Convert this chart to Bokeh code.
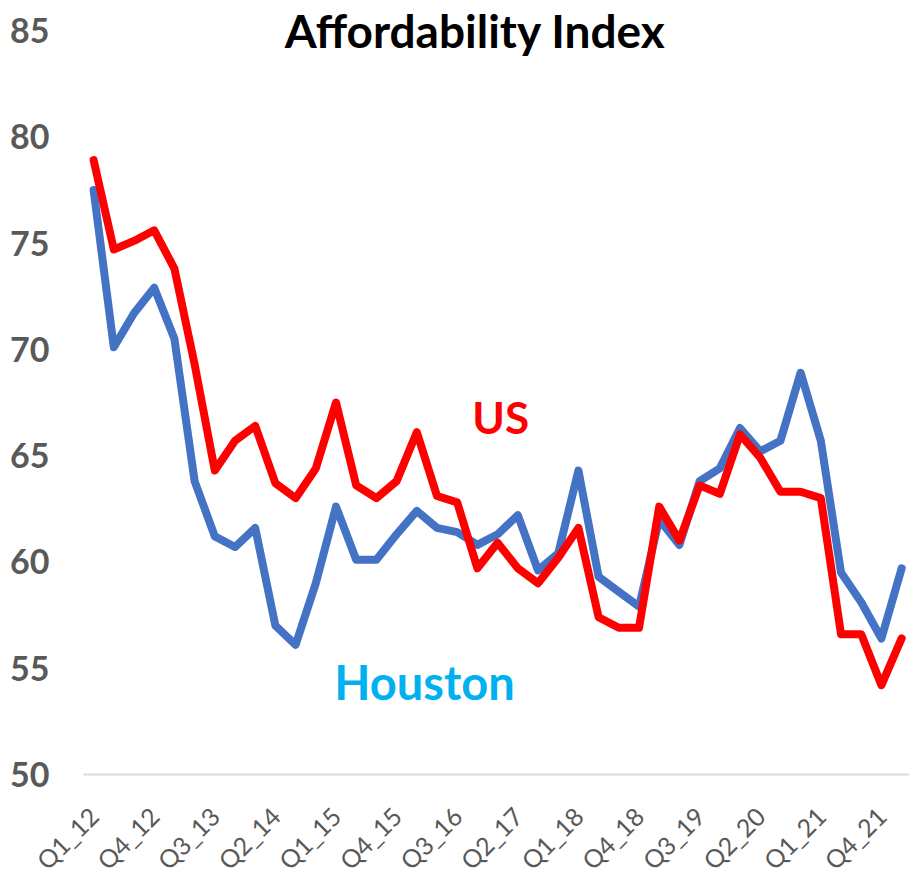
from bokeh.plotting import figure
from bokeh.models import FixedTicker, Range1d, Label, ColumnDataSource
from bokeh.embed import file_html
from bokeh.resources import INLINE
import math

quarters = ["Q1_12", "Q2_12", "Q3_12", "Q4_12",
            "Q1_13", "Q2_13", "Q3_13", "Q4_13",
            "Q1_14", "Q2_14", "Q3_14", "Q4_14",
            "Q1_15", "Q2_15", "Q3_15", "Q4_15",
            "Q1_16", "Q2_16", "Q3_16", "Q4_16",
            "Q1_17", "Q2_17", "Q3_17", "Q4_17",
            "Q1_18", "Q2_18", "Q3_18", "Q4_18",
            "Q1_19", "Q2_19", "Q3_19", "Q4_19",
            "Q1_20", "Q2_20", "Q3_20", "Q4_20",
            "Q1_21", "Q2_21", "Q3_21", "Q4_21",
            "Q1_22"]

houston = [77.5, 70.1, 71.7, 72.9, 70.5, 63.8, 61.2, 60.7, 61.6, 57.0,
           56.1, 59.0, 62.6, 60.1, 60.1, 61.3, 62.4, 61.6, 61.4, 60.8,
           61.3, 62.2, 59.6, 60.4, 64.3, 59.3, 58.6, 57.9, 62.0, 60.8,
           63.8, 64.4, 66.3, 65.2, 65.7, 68.9, 65.7, 59.5, 58.1, 56.4,
           59.7]

us = [78.9, 74.7, 75.1, 75.6, 73.8, 69.3, 64.3, 65.7, 66.4, 63.7,
      63.0, 64.4, 67.5, 63.6, 63.0, 63.8, 66.1, 63.1, 62.8, 59.7,
      60.9, 59.7, 59.0, 60.2, 61.6, 57.4, 56.9, 56.9, 62.6, 61.0,
      63.6, 63.2, 66.0, 64.9, 63.3, 63.3, 63.0, 56.6, 56.6, 54.2,
      56.4]

y_ticks = [50, 55, 60, 65, 70, 75, 80, 85]

idx = list(range(len(quarters)))
src = ColumnDataSource(dict(x=idx, houston=houston, us=us))

x_lo = -0.5
x_hi = len(quarters) - 0.61

p = figure(width=909, height=877, output_backend="svg", toolbar_location=None,
           x_range=Range1d(x_lo - 4.109, x_hi),
           y_range=Range1d(45.154, 86.411))
p.min_border_left = 0
p.min_border_right = 0
p.min_border_top = 0
p.min_border_bottom = 0
p.outline_line_color = None
p.background_fill_color = "white"
p.border_fill_color = "white"
p.xgrid.visible = False
p.ygrid.visible = False

p.line("x", "houston", source=src, line_color="#4472C4", line_width=8,
       line_join="round", line_cap="round")
p.line("x", "us", source=src, line_color="#FF0000", line_width=8,
       line_join="round", line_cap="round")

# y axis, pinned at the left edge of the category area
p.yaxis.fixed_location = x_lo
p.yaxis.ticker = FixedTicker(ticks=y_ticks)
p.yaxis.axis_line_color = None
p.yaxis.major_tick_line_color = None
p.yaxis.minor_tick_line_color = None
p.yaxis.major_label_standoff = 28
p.yaxis.major_label_text_font = "Lato"
p.yaxis.major_label_text_font_style = "bold"
p.yaxis.major_label_text_font_size = "34px"
p.yaxis.major_label_text_color = "#595959"

# x axis, pinned at the 50 line
p.xaxis.fixed_location = 50
p.xaxis.bounds = (x_lo, x_hi)
p.xaxis.ticker = FixedTicker(ticks=idx[::3])
p.xaxis.major_label_overrides = {i: quarters[i] for i in idx[::3]}
p.xaxis.major_label_orientation = math.pi / 4
p.xaxis.axis_line_color = "#D9D9D9"
p.xaxis.axis_line_width = 2
p.xaxis.major_tick_line_color = None
p.xaxis.minor_tick_line_color = None
p.xaxis.major_label_standoff = 31
p.xaxis.major_label_text_font = "Lato"
p.xaxis.major_label_text_font_size = "25px"
p.xaxis.major_label_text_color = "#595959"

p.add_layout(Label(x=18.9, y=85.0, text="Affordability Index", text_align="center",
                   text_baseline="alphabetic", text_font="Lato", text_font_style="bold",
                   text_font_size="46px", text_color="black"))
p.add_layout(Label(x=20.15, y=66.8, text="US", text_align="center",
                   text_baseline="alphabetic", text_font="Lato", text_font_style="bold",
                   text_font_size="44px", text_color="#FF0000"))
p.add_layout(Label(x=16.38, y=54.33, text="Houston", text_align="center",
                   text_baseline="alphabetic", text_font="Lato", text_font_style="bold",
                   text_font_size="47px", text_color="#00B0F0"))

open("out.html", "w").write(file_html(p, INLINE))
